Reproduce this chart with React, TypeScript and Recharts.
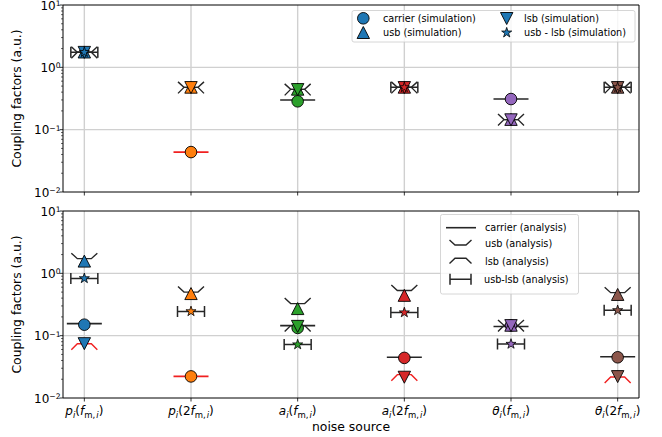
import { ScatterChart, Scatter, XAxis, YAxis, CartesianGrid, ReferenceArea } from 'recharts';

// noise sources on the x axis: p_i(f), p_i(2f), a_i(f), a_i(2f), θ_i(f), θ_i(2f)
const sources = ['p', 'p', 'a', 'a', 'θ', 'θ'];
const harmonics = ['', '2', '', '2', '', '2'];
const catColors = ['#1f77b4', '#ff7f0e', '#2ca02c', '#d62728', '#9467bd', '#8c564b'];

// top panel, simulation
const topSimCarrier = [null, 0.0437, 0.285, null, 0.31, null];
const topSimUsb = [1.75, 0.477, 0.443, 0.477, 0.145, 0.477];
const topSimLsb = [1.75, 0.477, 0.443, 0.477, 0.145, 0.477];
const topSimDiff = [1.75, null, null, 0.477, null, 0.477];
// top panel, analysis
const topAnaCarrier = [null, 0.0437, 0.3, null, 0.31, null];
const topAnaUsb = [1.75, 0.477, 0.443, 0.477, 0.145, 0.477];
const topAnaLsb = [1.75, 0.477, 0.443, 0.477, 0.145, 0.477];
const topAnaDiff = [1.75, null, null, 0.477, null, 0.477];
const topRedCarrier = [1];

// bottom panel, simulation
const botSimCarrier = [0.15, 0.0222, 0.133, 0.044, 0.146, 0.045];
const botSimUsb = [1.56, 0.47, 0.27, 0.44, 0.146, 0.455];
const botSimLsb = [0.075, null, 0.142, 0.0217, 0.146, 0.0222];
const botSimDiff = [0.83, 0.245, 0.072, 0.235, 0.0735, 0.255];
// bottom panel, analysis
const botAnaCarrier = [0.156, 0.0222, 0.145, 0.045, 0.14, 0.046];
const botAnaUsb = [1.72, 0.5, 0.327, 0.53, 0.146, 0.49];
const botAnaLsb = [0.074, null, 0.145, 0.0237, 0.146, 0.0217];
const botAnaDiff = [0.83, 0.245, 0.072, 0.235, 0.0735, 0.255];
const botRedCarrier = [1];
const botRedLsb = [0, 3, 5];

const yMajor = [0.01, 0.1, 1, 10];
const yExp = ['−2', '−1', '0', '1'];
const yMinor = [0.01, 0.1, 1].flatMap((d) => [2, 3, 4, 5, 6, 7, 8, 9].map((k) => k * d));

const FONT = 'DejaVu Sans, sans-serif';
const INK = '#262626';
const RED = '#f02020';

type Pt = { x: number; y: number; red: boolean };
const toPts = (vals: (number | null)[], red: number[] = []): Pt[] =>
  vals.flatMap((v, i) => (v == null ? [] : [{ x: i, y: v, red: red.includes(i) }]));

function starPath(cx: number, cy: number, R: number) {
  const r = R * 0.382;
  let d = '';
  for (let k = 0; k < 10; k++) {
    const rad = k % 2 === 0 ? R : r;
    const a = -Math.PI / 2 + (k * Math.PI) / 5;
    d += `${k === 0 ? 'M' : 'L'}${cx + rad * Math.cos(a)},${cy + rad * Math.sin(a)}`;
  }
  return d + 'Z';
}

// simulation markers
const SimCircle = (p: any) => (
  <circle cx={p.cx} cy={p.cy} r={5.8} fill={catColors[p.payload.x]} stroke="#000" strokeWidth={0.9} />
);
const SimUp = (p: any) => (
  <path d={`M${p.cx},${p.cy - 6.2}L${p.cx + 6.2},${p.cy + 5.8}L${p.cx - 6.2},${p.cy + 5.8}Z`}
    fill={catColors[p.payload.x]} stroke="#000" strokeWidth={0.9} />
);
const SimDown = (p: any) => (
  <path d={`M${p.cx},${p.cy + 6.2}L${p.cx + 6.2},${p.cy - 5.8}L${p.cx - 6.2},${p.cy - 5.8}Z`}
    fill={catColors[p.payload.x]} stroke="#000" strokeWidth={0.9} />
);
const SimStar = (p: any) => (
  <path d={starPath(p.cx, p.cy, 5.3)} fill={catColors[p.payload.x]} stroke="#000" strokeWidth={0.8} />
);

// analysis markers
const AnaLine = (p: any) => (
  <path d={`M${p.cx - 17.5},${p.cy}H${p.cx + 17.5}`} stroke={p.payload.red ? RED : INK} strokeWidth={1.6} fill="none" />
);
const AnaCup = (p: any) => (
  <path d={`M${p.cx - 13},${p.cy - 5.5}L${p.cx - 7},${p.cy}H${p.cx + 7}L${p.cx + 13},${p.cy - 5.5}`}
    stroke={p.payload.red ? RED : INK} strokeWidth={1.4} fill="none" />
);
const AnaCap = (p: any) => (
  <path d={`M${p.cx - 13},${p.cy + 6}L${p.cx - 7},${p.cy}H${p.cx + 7}L${p.cx + 13},${p.cy + 6}`}
    stroke={p.payload.red ? RED : INK} strokeWidth={1.4} fill="none" />
);
const AnaBar = (p: any) => (
  <path d={`M${p.cx - 13.5},${p.cy}H${p.cx + 13.5}M${p.cx - 13.5},${p.cy - 5.5}V${p.cy + 5.5}M${p.cx + 13.5},${p.cy - 5.5}V${p.cy + 5.5}`}
    stroke={INK} strokeWidth={1.5} fill="none" />
);

function YTick({ x, y, payload }: any) {
  const v = payload.value;
  const major = yMajor.indexOf(v);
  if (major < 0) return <line x1={x - 2} x2={x} y1={y} y2={y} stroke="#000" strokeWidth={0.6} />;
  return (
    <g>
      <line x1={x - 3.5} x2={x} y1={y} y2={y} stroke="#000" strokeWidth={0.8} />
      <text x={x - 2.5} y={y + 4.8} textAnchor="end" fontSize={12} fontFamily={FONT} fill="#000">
        <tspan>10</tspan>
        <tspan fontSize={7.6} dy={-3.8}>{yExp[major]}</tspan>
      </text>
    </g>
  );
}

function XTick({ x, y, payload, showLabel }: any) {
  const i = payload.value;
  return (
    <g>
      <line x1={x} x2={x} y1={y} y2={y + 3.5} stroke="#000" strokeWidth={0.8} />
      {showLabel && (
        <text x={x} y={y + 16.5} textAnchor="middle" fontSize={12} fontFamily={FONT} fill="#000">
          <tspan fontStyle="italic">{sources[i]}</tspan>
          <tspan fontStyle="italic" fontSize={8.5} dy={3}>i</tspan>
          <tspan dy={-3}>(</tspan>
          <tspan>{harmonics[i]}</tspan>
          <tspan fontStyle="italic">f</tspan>
          <tspan fontSize={8.5} dy={3}>m,</tspan>
          <tspan fontSize={8.5} fontStyle="italic" dx={1}>i</tspan>
          <tspan dy={-3}>)</tspan>
        </text>
      )}
    </g>
  );
}

interface PanelData {
  simCarrier: Pt[]; simUsb: Pt[]; simLsb: Pt[]; simDiff: Pt[];
  anaCarrier: Pt[]; anaUsb: Pt[]; anaLsb: Pt[]; anaDiff: Pt[];
}

function Panel({ d, top, height, marginTop, xAxisHeight, showLabels }: { d: PanelData; top: number; height: number; marginTop: number; xAxisHeight: number; showLabels: boolean }) {
  return (
    <div style={{ position: 'absolute', left: 0, top }}>
      <ScatterChart width={662} height={height} margin={{ top: marginTop, right: 23, bottom: 0, left: 0 }}>
        <CartesianGrid horizontalValues={[0.1, 1]} verticalValues={[0, 1, 2, 3, 4, 5]} stroke="#d0d0d0" strokeWidth={1.4} />
        <XAxis type="number" dataKey="x" domain={[-0.2, 5.2]} ticks={[0, 1, 2, 3, 4, 5]} interval={0}
          allowDataOverflow height={xAxisHeight} axisLine={false} tickLine={false} tickSize={0} tickMargin={0}
          tick={<XTick showLabel={showLabels} />} />
        <YAxis type="number" dataKey="y" scale="log" domain={[0.01, 10]} ticks={[...yMajor, ...yMinor]} interval={0}
          allowDataOverflow width={63} axisLine={false} tickLine={false} tickSize={0} tickMargin={0} tick={<YTick />} />
        <Scatter data={d.anaCarrier} shape={AnaLine} isAnimationActive={false} />
        <Scatter data={d.anaUsb} shape={AnaCup} isAnimationActive={false} />
        <Scatter data={d.anaLsb} shape={AnaCap} isAnimationActive={false} />
        <Scatter data={d.anaDiff} shape={AnaBar} isAnimationActive={false} />
        <Scatter data={d.simCarrier} shape={SimCircle} isAnimationActive={false} />
        <Scatter data={d.simUsb} shape={SimUp} isAnimationActive={false} />
        <Scatter data={d.simLsb} shape={SimDown} isAnimationActive={false} />
        <Scatter data={d.simDiff} shape={SimStar} isAnimationActive={false} />
        <ReferenceArea x1={-0.2} x2={5.2} y1={0.01} y2={10} fill="none" stroke="#000" strokeWidth={1} ifOverflow="visible" />
      </ScatterChart>
    </div>
  );
}

const topData: PanelData = {
  simCarrier: toPts(topSimCarrier), simUsb: toPts(topSimUsb), simLsb: toPts(topSimLsb), simDiff: toPts(topSimDiff),
  anaCarrier: toPts(topAnaCarrier, topRedCarrier), anaUsb: toPts(topAnaUsb), anaLsb: toPts(topAnaLsb), anaDiff: toPts(topAnaDiff),
};
const botData: PanelData = {
  simCarrier: toPts(botSimCarrier), simUsb: toPts(botSimUsb), simLsb: toPts(botSimLsb), simDiff: toPts(botSimDiff),
  anaCarrier: toPts(botAnaCarrier, botRedCarrier), anaUsb: toPts(botAnaUsb), anaLsb: toPts(botAnaLsb, botRedLsb), anaDiff: toPts(botAnaDiff),
};

const legendText = { fontSize: 9.7, fontFamily: FONT, fill: '#000' };

function Overlay() {
  const b = '#1f77b4';
  return (
    <svg width={662} height={437} style={{ position: 'absolute', left: 0, top: 0, pointerEvents: 'none' }}>
      <text transform="translate(21,98.5) rotate(-90)" textAnchor="middle" fontSize={12.4} fontFamily={FONT}>Coupling factors (a.u.)</text>
      <text transform="translate(21,304.5) rotate(-90)" textAnchor="middle" fontSize={12.4} fontFamily={FONT}>Coupling factors (a.u.)</text>
      <text x={351} y={431} textAnchor="middle" fontSize={12.4} fontFamily={FONT}>noise source</text>

      {/* simulation legend */}
      <rect x={352} y={10.5} width={283} height={31.5} rx={2} fill="#fff" fillOpacity={0.8} stroke="#ccc" strokeWidth={0.8} />
      <circle cx={363.3} cy={18.3} r={5.8} fill={b} stroke="#000" strokeWidth={0.9} />
      <path d={`M363.3,26.5L369.5,38.5L357.1,38.5Z`} fill={b} stroke="#000" strokeWidth={0.9} />
      <path d={`M506.7,24.5L512.9,12.5L500.5,12.5Z`} fill={b} stroke="#000" strokeWidth={0.9} />
      <path d={starPath(506.7, 32.7, 5.3)} fill={b} stroke="#000" strokeWidth={0.8} />
      <text x={383} y={21.8} {...legendText}>carrier (simulation)</text>
      <text x={383} y={36.2} {...legendText}>usb (simulation)</text>
      <text x={524} y={21.8} {...legendText}>lsb (simulation)</text>
      <text x={524} y={36.2} {...legendText}>usb - lsb (simulation)</text>

      {/* analysis legend */}
      <rect x={440.5} y={214.5} width={138} height={79.5} rx={2} fill="#fff" fillOpacity={0.8} stroke="#ccc" strokeWidth={0.8} />
      <path d="M446,227.7H476" stroke={INK} strokeWidth={1.6} />
      <path d="M449.5,240L455,245H466L471.5,240" stroke={INK} strokeWidth={1.4} fill="none" />
      <path d="M449.5,263.5L455,258.3H466L471.5,263.5" stroke={INK} strokeWidth={1.4} fill="none" />
      <path d="M450,279.3H471M450,273.8V284.8M471,273.8V284.8" stroke={INK} strokeWidth={1.5} fill="none" />
      <text x={485} y={231.2} {...legendText}>carrier (analysis)</text>
      <text x={485} y={246.8} {...legendText}>usb (analysis)</text>
      <text x={485} y={265.2} {...legendText}>lsb (analysis)</text>
      <text x={484} y={282.8} {...legendText}>usb-lsb (analysis)</text>
    </svg>
  );
}

export default function App() {
  return (
    <div style={{ position: 'absolute', left: 0, top: 0, width: 662, height: 437, background: '#fff' }}>
      <Panel d={topData} top={0} height={200} marginTop={5} xAxisHeight={8} showLabels={false} />
      <Panel d={botData} top={200} height={237} marginTop={11} xAxisHeight={39} showLabels />
      <Overlay />
    </div>
  );
}
